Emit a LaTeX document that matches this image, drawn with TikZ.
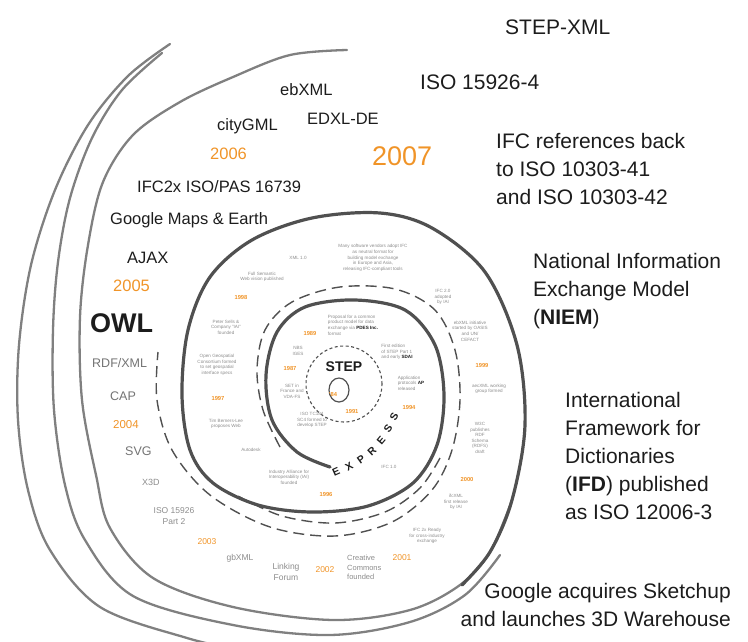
\documentclass[tikz,border=0pt]{standalone}
\usepackage{fontspec}
\setmainfont{Liberation Sans}
\definecolor{ink}{RGB}{28,28,28}
\definecolor{yearorange}{RGB}{240,148,40}
\definecolor{ringdark}{RGB}{80,80,80}
\definecolor{ringgray}{RGB}{128,128,128}
\definecolor{notegray}{RGB}{140,140,140}
\definecolor{softgray}{RGB}{115,115,115}
\begin{document}
\begin{tikzpicture}[x=1pt,y=-1pt,
  every node/.style={inner sep=0pt},
  bigtext/.style={font=\fontsize{21}{28}\selectfont, text=ink, align=left},
  midtext/.style={font=\fontsize{16.5}{20}\selectfont, text=ink},
  smalltext/.style={font=\fontsize{12.5}{15}\selectfont, text=softgray},
  minitext/.style={font=\fontsize{8.5}{10.5}\selectfont, text=notegray, align=center},
  note/.style={font=\fontsize{4.6}{5.6}\selectfont, text=notegray, align=center},
  yearbig/.style={font=\fontsize{27}{30}\selectfont, text=yearorange},
  yearmid/.style={font=\fontsize{16.5}{20}\selectfont, text=yearorange},
  yearsmall/.style={font=\fontsize{11.5}{14}\selectfont, text=yearorange},
  yeartiny/.style={font=\fontsize{8.5}{10}\selectfont, text=yearorange},
  yearnote/.style={font=\bfseries\fontsize{5.8}{6}\selectfont, text=yearorange},
  sketch/.style={draw=ringgray, line width=2.3pt, line cap=round},
  spiral/.style={draw=ringdark, line width=3.2pt, line cap=round},
  dashring/.style={draw=ringdark, line width=1.4pt, dash pattern=on 11pt off 6pt},
  stepring/.style={draw=ringdark, line width=1.1pt, dash pattern=on 3pt off 2.5pt},
  expr/.style={font=\bfseries\fontsize{10.5}{10.5}\selectfont, text=ink},
]
\useasboundingbox (0,0) rectangle (748,641);

\begin{scope}
\clip (0,0) rectangle (748,641);
% outer partial turns of the spiral
\draw[sketch] plot[smooth, tension=0.55] coordinates {(170,44) (128,76) (88,125) (55,190) (31,265) (19,345) (18,420) (28,490) (50,550) (100,607) (187,638) (240,650)};
\draw[sketch] plot[smooth, tension=0.55] coordinates {(162,53) (122,90) (92,138) (70,198) (58,262) (53,330) (54,410) (65,485) (85,540) (133,596) (233,625) (330,635) (410,622) (465,595) (500,555)};
\draw[sketch] plot[smooth, tension=0.55] coordinates {(347,50) (290,55) (233,77) (180,102) (133,135) (103,182) (88,245) (80,317) (82,400) (96,475) (110,528) (153,578) (233,607) (333,620) (410,610) (460,585) (490,552) (512,500)};
% main spiral, winding inwards
\draw[spiral] plot[smooth, tension=0.55] coordinates {(462,585) (490,552) (512,500) (525,425) (517,345) (485,272) (432,228) (380,213) (312,218) (252,240) (210,277) (188,330) (182,395) (190,450) (213,483) (258,505) (312,512) (368,506) (413,483) (437,445) (444,395) (435,345) (405,310) (355,300) (305,307) (277,332) (266,375) (272,420) (297,452) (330,467)};
% dashed companion turn
\draw[dashring] plot[smooth, tension=0.55] coordinates {(280,447) (263,410) (257,370) (265,330) (292,302) (340,287) (395,289) (435,310) (455,350) (460,400) (452,450) (432,490) (392,522) (335,536) (270,527) (210,495) (172,450) (157,400) (158,352)};
\draw[dashring] plot[smooth, tension=0.55] coordinates {(440,458) (420,488) (385,512) (335,523) (282,516) (238,496)};
\end{scope}

% core rings
\draw[stepring] (344,384) circle[radius=38pt];
\draw[draw=ringdark, line width=1.2pt] (339,390) ellipse[x radius=10pt, y radius=12pt];
\node[font=\bfseries\fontsize{14}{14}\selectfont, text=ink] (step) at (344,367) {STEP};
\node[expr, rotate=24] (ex1) at (336,472) {E};
\node[expr, rotate=30] (ex2) at (349,467) {X};
\node[expr, rotate=36] (ex3) at (361,460) {P};
\node[expr, rotate=43] (ex4) at (372,451) {R};
\node[expr, rotate=50] (ex5) at (381,440) {E};
\node[expr, rotate=56] (ex6) at (388,429) {S};
\node[expr, rotate=62] (ex7) at (394,417) {S};

% right-hand milestones
\node[bigtext, anchor=north west] (stepxml) at (505,20) {STEP-XML};
\node[bigtext, anchor=north west] (iso15926) at (420,75) {ISO 15926-4};
\node[bigtext, anchor=north west] (ifcref) at (496,133) {IFC references back\\to ISO 10303-41\\and ISO 10303-42};
\node[bigtext, anchor=north west] (niem) at (533,253) {National Information\\Exchange Model\\(\textbf{NIEM})};
\node[bigtext, anchor=north west] (ifd) at (565,392) {International\\Framework for\\Dictionaries\\(\textbf{IFD}) published\\as ISO 12006-3};
\node[bigtext, anchor=north east, align=right] (sketchup) at (731,583) {Google acquires Sketchup\\and launches 3D Warehouse};
\node[yearbig, anchor=north west] (y2007) at (372,146) {2007};

% outer band
\node[midtext, anchor=north west] (ebxml) at (280,83) {ebXML};
\node[midtext, anchor=north west] (edxl) at (307,113) {EDXL-DE};
\node[midtext, anchor=north west] (citygml) at (217,118) {cityGML};
\node[yearmid, anchor=north west] (y2006) at (210,148) {2006};
\node[midtext, anchor=north west] (ifc2x) at (137,180) {IFC2x ISO/PAS 16739};
\node[midtext, anchor=north west] (gmaps) at (110,212) {Google Maps \& Earth};
\node[midtext, anchor=north west] (ajax) at (127,252) {AJAX};
\node[yearmid, anchor=north west] (y2005) at (113,280) {2005};
\node[font=\bfseries\fontsize{27}{30}\selectfont, text=ink, anchor=north west] (owl) at (90,313) {OWL};
\node[smalltext, anchor=north west] (rdfxml) at (92,358) {RDF/XML};
\node[smalltext, anchor=north west] (cap) at (110,392) {CAP};
\node[yearsmall, anchor=north west] (y2004) at (113,420) {2004};
\node[smalltext, anchor=north west] (svg) at (125,447) {SVG};
\node[font=\fontsize{9}{10}\selectfont, text=notegray, anchor=north west] (x3d) at (142,479) {X3D};
\node[minitext] (isopart2) at (174,516) {ISO 15926\\Part 2};
\node[yeartiny] (y2003) at (207,542) {2003};
\node[minitext] (gbxml) at (240,558) {gbXML};
\node[minitext] (forum) at (286,572) {Linking\\Forum};
\node[yeartiny] (y2002) at (325,570) {2002};
\node[font=\fontsize{7.5}{9.5}\selectfont, text=notegray, align=left, anchor=north west] (cc) at (347,555) {Creative\\Commons\\founded};
\node[yeartiny] (y2001) at (402,558) {2001};

% notes between the outer turn and the dashed turn
\node[note] (n1) at (427,536) {IFC 2x Ready\\for cross-industry\\exchange};
\node[yearnote] (y2000) at (467,479) {2000};
\node[note] (n2) at (456,502) {ifcXML\\first release\\by IAI};
\node[note] (n3) at (480,438) {W3C\\publishes\\RDF\\Schema\\(RDFS)\\draft};
\node[note] (n4) at (489,389) {aecXML working\\group formed};
\node[yearnote] (y1999) at (482,365) {1999};
\node[note] (n5) at (470,331) {ebXML initiative\\started by OASIS\\and UN/\\CEFACT};
\node[note] (n6) at (443,297) {IFC 2.0\\adopted\\by IAI};
\node[note] (n7) at (373,258) {Many software vendors adopt IFC\\as neutral format for\\building model exchange\\in Europe and Asia,\\releasing IFC-compliant tools};
\node[note] (n8) at (298,258) {XML 1.0};
\node[note] (n9) at (262,277) {Full Semantic\\Web vision published};
\node[yearnote] (y1998) at (241,297) {1998};
\node[note] (n10) at (226,327) {Peter Sells \&\\Company "IAI"\\founded};
\node[note] (n11) at (217,365) {Open Geospatial\\Consortium formed\\to set geospatial\\interface specs};
\node[yearnote] (y1997) at (218,398) {1997};
\node[note] (n12) at (226,424) {Tim Berners-Lee\\proposes Web};
\node[note] (n13) at (251,450) {Autodesk};
\node[note] (n14) at (289,477) {Industry Alliance for\\Interoperability (IAI)\\founded};
\node[yearnote] (y1996) at (326,494) {1996};
\node[note] (n15) at (389,467) {IFC 1.0};

% notes inside the innermost solid turn
\node[note, align=left] (n16) at (353,325) {Proposal for a common\\product model for data\\exchange via \textcolor{ink}{\textbf{PDES Inc.}}\\format};
\node[yearnote] (y1989) at (310,333) {1989};
\node[note] (n17) at (298,351) {NBS\\IGES};
\node[yearnote] (y1987) at (290,368) {1987};
\node[note] (n18) at (292,391) {SET in\\France and\\VDA-FS};
\node[note] (n19) at (312,420) {ISO TC184\\SC4 formed to\\develop STEP};
\node[yearnote] (y1991) at (352,411) {1991};
\node[yearnote] (y1984) at (333,394) {'84};
\node[note, align=left] (n20) at (397,352) {First edition\\of STEP Part 1\\and early \textcolor{ink}{\textbf{SDAI}}};
\node[note, align=left] (n21) at (411,383) {Application\\protocols \textcolor{ink}{\textbf{AP}}\\released};
\node[yearnote] (y1994) at (409,407) {1994};
\end{tikzpicture}
\end{document}
